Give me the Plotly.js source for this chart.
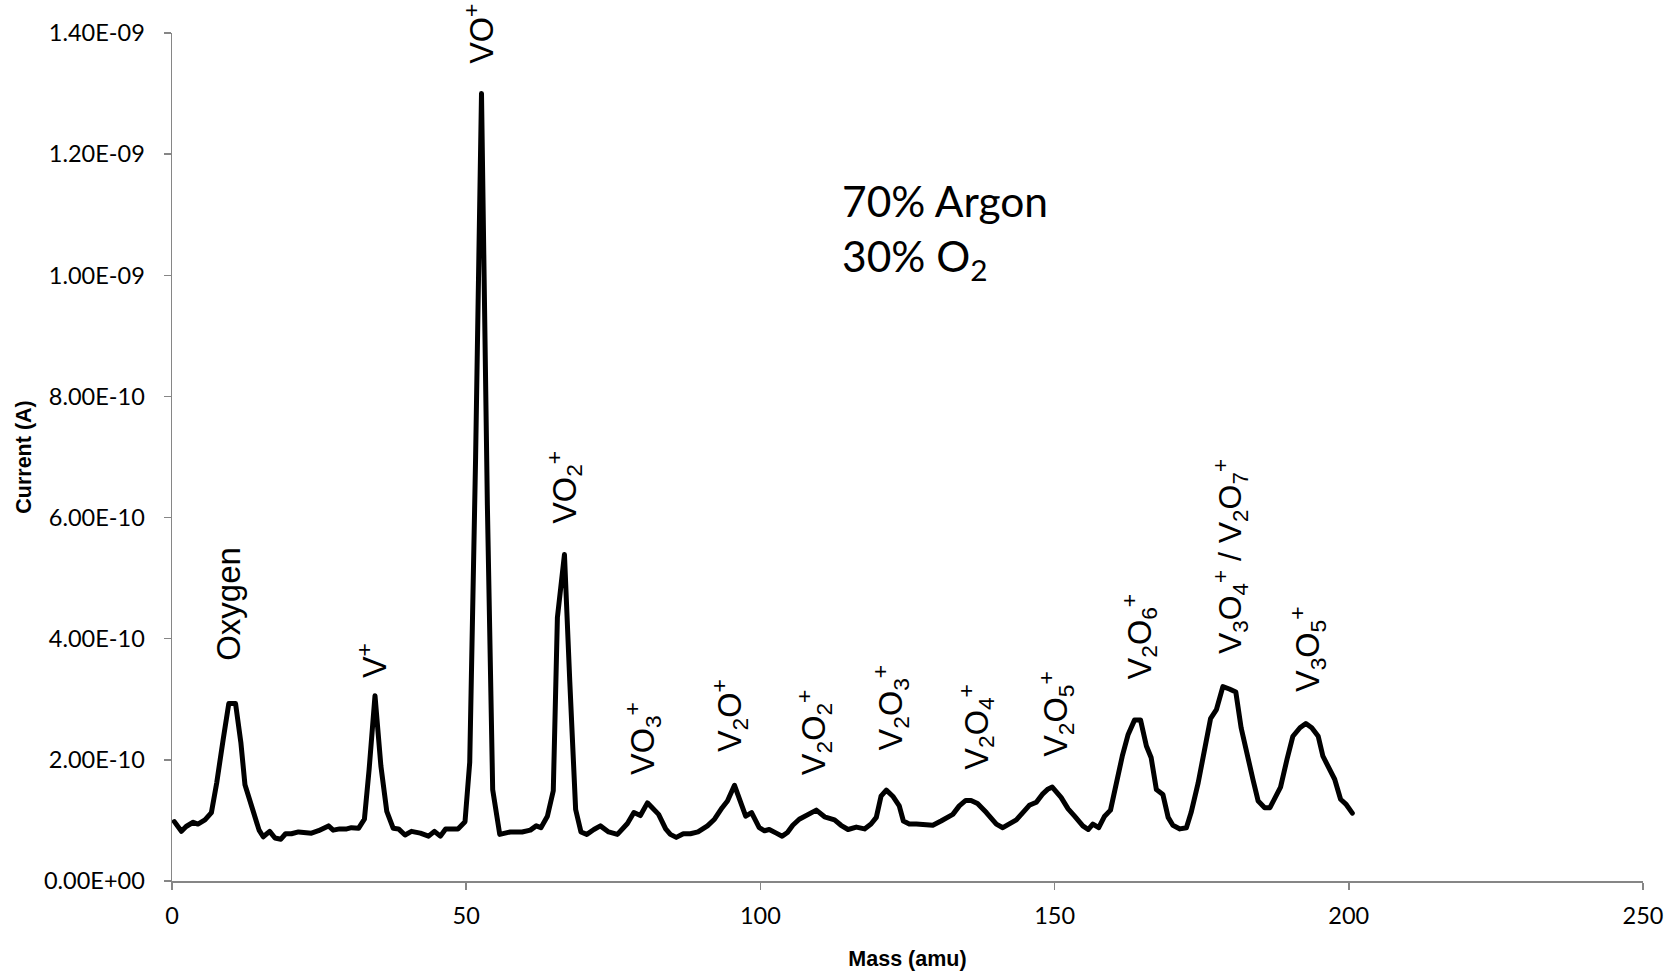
<!DOCTYPE html>
<html>
<head>
<meta charset="utf-8">
<script src="https://cdn.plot.ly/plotly-3.0.1.min.js"></script>
<style>
  html, body { margin: 0; padding: 0; background: #ffffff; }
  #chart { width: 1676px; height: 971px; }
  .scatterlayer .js-line { stroke-linejoin: round !important; stroke-linecap: round !important; }
</style>
</head>
<body>
<div id="chart"></div>
<script>
// Mass (amu)
const mass = [
  0.4, 1.6, 2.4, 3.6, 4.4, 5.6, 6.7, 7.6, 8.7, 9.65, 10.8, 11.7, 12.4, 13.5, 14.8, 15.5, 16.6, 17.5, 18.5, 19.3,
  20.3, 21.5, 22.6, 23.7, 24.9, 26.6, 27.4, 28.5, 29.7, 30.5, 31.7, 32.7, 33.5, 34.5, 35.5, 36.5, 37.6, 38.5, 39.6, 40.7,
  42.2, 43.6, 44.6, 45.6, 46.5, 47.6, 48.6, 49.8, 50.6, 51.6, 52.6, 53.6, 54.5, 55.7, 57.5, 59.5, 60.9, 61.9, 62.7, 63.8,
  64.8, 65.5, 66.7, 67.6, 68.6, 69.5, 70.5, 71.7, 72.8, 74.2, 75.7, 77.4, 78.5, 79.6, 80.8, 81.7, 82.7, 83.9, 84.7, 85.7,
  86.9, 88.1, 89.4, 91.0, 92.2, 93.5, 94.4, 95.6, 96.6, 97.5, 98.5, 99.8, 100.7, 101.5, 102.7, 103.7, 104.6, 105.5, 106.6, 108.0,
  109.5, 110.9, 112.6, 113.7, 114.9, 116.3, 117.7, 118.8, 119.7, 120.5, 121.4, 122.5, 123.6, 124.3, 125.3, 126.5, 127.9, 129.3, 130.7, 131.9,
  132.7, 133.8, 134.9, 135.8, 136.9, 138.4, 140.1, 141.2, 142.3, 143.5, 144.6, 145.7, 146.9, 147.9, 148.9, 149.6, 151.1, 152.3, 153.4, 154.8,
  155.7, 156.5, 157.5, 158.5, 159.5, 160.5, 161.5, 162.5, 163.6, 164.6, 165.6, 166.4, 167.3, 168.4, 169.3, 170.1, 171.3, 172.4, 173.2, 174.4,
  175.5, 176.5, 177.5, 178.6, 179.7, 180.8, 181.7, 182.9, 183.7, 184.6, 185.7, 186.6, 187.4, 188.4, 189.5, 190.5, 191.7, 192.7, 193.7, 194.8,
  195.6, 196.8, 197.6, 198.6, 199.5, 200.6
];
// Current, in units of 1E-10 A
const current_e10 = [
  0.98, 0.82, 0.90, 0.97, 0.94, 1.01, 1.13, 1.62, 2.34, 2.93, 2.93, 2.29, 1.59, 1.23, 0.84, 0.73, 0.82, 0.71, 0.69, 0.78,
  0.78, 0.81, 0.79, 0.79, 0.83, 0.91, 0.84, 0.86, 0.86, 0.88, 0.87, 1.02, 1.84, 3.06, 1.90, 1.15, 0.87, 0.86, 0.76, 0.82,
  0.79, 0.74, 0.82, 0.74, 0.86, 0.86, 0.86, 0.98, 1.96, 7.00, 13.00, 6.20, 1.51, 0.77, 0.81, 0.81, 0.84, 0.91, 0.88, 1.07,
  1.49, 4.35, 5.39, 3.30, 1.18, 0.81, 0.77, 0.85, 0.91, 0.81, 0.77, 0.95, 1.13, 1.08, 1.29, 1.20, 1.10, 0.86, 0.77, 0.72,
  0.78, 0.78, 0.81, 0.91, 1.02, 1.21, 1.32, 1.58, 1.29, 1.07, 1.13, 0.88, 0.83, 0.85, 0.79, 0.74, 0.80, 0.92, 1.02, 1.10,
  1.17, 1.06, 1.01, 0.92, 0.85, 0.89, 0.86, 0.94, 1.05, 1.40, 1.50, 1.40, 1.24, 0.99, 0.94, 0.94, 0.94, 0.92, 0.99, 1.07,
  1.10, 1.24, 1.33, 1.33, 1.28, 1.13, 0.94, 0.88, 0.94, 1.01, 1.13, 1.25, 1.30, 1.43, 1.52, 1.55, 1.38, 1.19, 1.07, 0.91,
  0.85, 0.94, 0.88, 1.07, 1.17, 1.62, 2.06, 2.42, 2.66, 2.66, 2.23, 2.04, 1.51, 1.43, 1.05, 0.92, 0.86, 0.88, 1.13, 1.62,
  2.17, 2.68, 2.83, 3.21, 3.17, 3.12, 2.53, 1.98, 1.68, 1.32, 1.21, 1.21, 1.38, 1.55, 2.01, 2.39, 2.53, 2.60, 2.53, 2.39,
  2.06, 1.82, 1.68, 1.35, 1.27, 1.12
];
const unit = 1e-10;

// Peak labels
const peakLabels = [
  "Oxygen", "V<sup>+</sup>", "VO<sup>+</sup>", "VO<sub>2</sub><sup>+</sup>", "VO<sub>3</sub><sup>+</sup>",
  "V<sub>2</sub>O<sup>+</sup>", "V<sub>2</sub>O<sub>2</sub><sup>+</sup>", "V<sub>2</sub>O<sub>3</sub><sup>+</sup>",
  "V<sub>2</sub>O<sub>4</sub><sup>+</sup>", "V<sub>2</sub>O<sub>5</sub><sup>+</sup>", "V<sub>2</sub>O<sub>6</sub><sup>+</sup>",
  "V<sub>3</sub>O<sub>4</sub><sup>+</sup> / V<sub>2</sub>O<sub>7</sub><sup>+</sup>", "V<sub>3</sub>O<sub>5</sub><sup>+</sup>"
];
const peakLabelMass = [9.6, 34.0, 52.2, 66.6, 80.0, 94.7, 109.0, 122.1, 136.7, 150.1, 164.3, 179.8, 193.0];
const peakLabelBase_e10 = [3.61, 3.31, 13.46, 5.87, 1.72, 2.09, 1.72, 2.13, 1.81, 2.02, 3.29, 3.72, 3.08];
const peakLabelSize = [33, 32.5, 32.5, 32.5, 32.5, 32.5, 32.5, 32.5, 32.5, 32.5, 32.5, 32, 32.5];

const gasLines = ["70% Argon", "30% O<sub>2</sub>"];
const gasMass = [113.5, 113.5];
const gasY_e10 = [11.24, 10.27];

// Axis ticks
const xTickVals = [0, 50, 100, 150, 200, 250];
const yTickVals_e10 = [0, 2, 4, 6, 8, 10, 12, 14];
const yTickText = ["0.00E+00", "2.00E-10", "4.00E-10", "6.00E-10", "8.00E-10", "1.00E-09", "1.20E-09", "1.40E-09"];

const axisGray = "#868686";
const tickFont = { family: "Lato, 'Open Sans', sans-serif", size: 23.5, color: "#000000" };
const titleFont = { family: "'Liberation Sans', Arial, sans-serif", size: 21.5, color: "#000000", weight: "bold" };

const trace = {
  type: "scatter",
  mode: "lines",
  x: mass,
  y: current_e10.map(v => v * unit),
  line: { color: "#000000", width: 5 },
  hoverinfo: "x+y",
  showlegend: false
};

const annotations = [];
for (let i = 0; i < peakLabels.length; i++) {
  annotations.push({
    x: peakLabelMass[i], y: peakLabelBase_e10[i] * unit,
    xref: "x", yref: "y",
    text: peakLabels[i],
    showarrow: false,
    textangle: -90,
    xanchor: "center", yanchor: "bottom",
    font: { family: "'Liberation Sans', Arial, sans-serif", size: peakLabelSize[i], color: "#000000" }
  });
}
for (let i = 0; i < gasLines.length; i++) {
  annotations.push({
    x: gasMass[i], y: gasY_e10[i] * unit,
    xref: "x", yref: "y",
    text: gasLines[i],
    showarrow: false,
    xanchor: "left", yanchor: "middle",
    font: { family: "Lato, 'Open Sans', sans-serif", size: 42.5, color: "#000000" }
  });
}

const layout = {
  width: 1676, height: 971,
  paper_bgcolor: "#ffffff", plot_bgcolor: "#ffffff",
  margin: { l: 172, r: 33, t: 33, b: 89.5, pad: 0 },
  showlegend: false,
  xaxis: {
    range: [0, 250],
    tickvals: xTickVals,
    ticks: "outside", ticklen: 7, tickwidth: 1.5, tickcolor: axisGray,
    showline: true, linecolor: axisGray, linewidth: 1.5,
    showgrid: false, zeroline: false,
    tickfont: tickFont,
    ticklabelstandoff: 6,
    title: { text: "Mass (amu)", font: titleFont, standoff: 29 },
    automargin: false
  },
  yaxis: {
    range: [0, 1.4e-9],
    tickvals: yTickVals_e10.map(v => v * unit),
    ticktext: yTickText,
    ticks: "outside", ticklen: 7, tickwidth: 1.5, tickcolor: axisGray,
    showline: true, linecolor: axisGray, linewidth: 1.5,
    showgrid: false, zeroline: false,
    tickfont: tickFont,
    ticklabelstandoff: 14,
    title: { text: "Current (A)", font: titleFont, standoff: 6 },
    automargin: false
  },
  annotations: annotations
};

Plotly.newPlot("chart", [trace], layout, { displayModeBar: false, staticPlot: true });
</script>
</body>
</html>
